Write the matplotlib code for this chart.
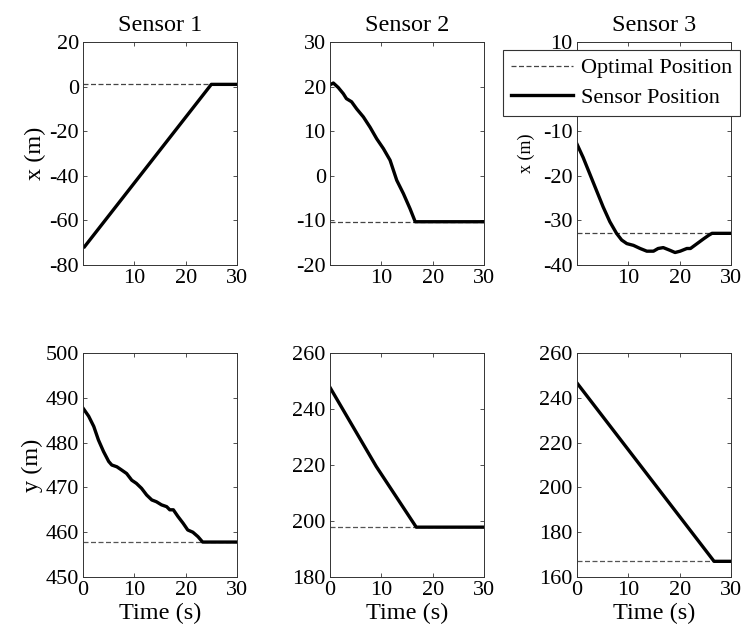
import matplotlib
matplotlib.use('Agg')
import matplotlib.pyplot as plt

plt.rcParams['font.family'] = ['Liberation Serif', 'DejaVu Serif']
plt.rcParams['axes.unicode_minus'] = False

# Sensor 1, x position (m) over time (s)
t_x1 = [0.3, 25.0, 30.0]
x1 = [-71.8, 1.0, 1.0]
x1_opt = 1.0

# Sensor 2, x position
t_x2 = [0.0, 0.65, 1.6, 2.6, 3.2, 4.2, 5.2, 6.5, 7.8, 9.1, 10.4, 11.7, 13.0, 14.3, 15.6, 16.6, 30.0]
x2 = [20.4, 20.8, 19.8, 18.4, 17.3, 16.6, 15.0, 13.2, 10.9, 8.3, 6.1, 3.5, -1.0, -4.0, -7.4, -10.3, -10.3]
x2_opt = -10.3

# Sensor 3, x position
t_x3 = [0.0, 1.2, 2.5, 3.8, 5.1, 6.4, 7.7, 8.7, 9.7, 11.0, 12.3, 13.6, 14.9, 15.8, 16.8,
        18.1, 19.1, 20.1, 21.4, 22.1, 23.4, 24.7, 25.7, 26.3, 30.0]
x3 = [-12.9, -15.9, -19.6, -23.3, -27.0, -30.3, -32.9, -34.4, -35.2, -35.6, -36.3, -36.9, -36.9,
      -36.3, -36.1, -36.7, -37.2, -36.9, -36.3, -36.3, -35.2, -34.1, -33.3, -32.9, -32.9]
x3_opt = -32.9

# Sensor 1, y position
t_y1 = [0.0, 1.1, 2.1, 3.0, 4.0, 5.0, 5.6, 6.6, 7.5, 8.5, 9.5, 10.4, 11.4, 12.4, 13.4, 14.3,
        15.3, 16.3, 16.9, 17.6, 18.5, 19.5, 20.4, 21.4, 22.4, 23.3, 30.0]
y1 = [487.7, 485.9, 483.6, 480.6, 478.0, 475.8, 475.0, 474.6, 473.9, 473.1, 471.6, 470.9, 469.8,
      468.3, 467.2, 466.8, 466.1, 465.7, 465.0, 465.0, 463.5, 462.0, 460.5, 460.0, 459.0, 457.8, 457.8]
y1_opt = 457.8

# Sensor 2, y position
t_y2 = [0.0, 9.0, 16.8, 30.0]
y2 = [247.7, 219.5, 197.8, 197.8]
y2_opt = 197.8

# Sensor 3, y position
t_y3 = [0.0, 26.7, 30.0]
y3 = [246.6, 167.0, 167.0]
y3_opt = 167.0

titles = ['Sensor 1', 'Sensor 2', 'Sensor 3']
x_series = [(t_x1, x1, x1_opt), (t_x2, x2, x2_opt), (t_x3, x3, x3_opt)]
y_series = [(t_y1, y1, y1_opt), (t_y2, y2, y2_opt), (t_y3, y3, y3_opt)]
x_ylims = [(-80, 20), (-20, 30), (-40, 10)]
y_ylims = [(450, 500), (180, 260), (160, 260)]
x_yticks = [[-80, -60, -40, -20, 0, 20], [-20, -10, 0, 10, 20, 30], [-40, -30, -20, -10, 0, 10]]
y_yticks = [[450, 460, 470, 480, 490, 500], [180, 200, 220, 240, 260],
            [160, 180, 200, 220, 240, 260]]

fig = plt.figure(figsize=(7.41, 6.42), dpi=100, facecolor='w')
lefts = [83 / 741, 330 / 741, 577 / 741]
w = 154 / 741


def style(ax):
    ax.tick_params(direction='in', top=True, right=True, labelsize=16,
                   length=3, width=0.6, color='#333333', pad=3)
    for s in ax.spines.values():
        s.set_linewidth(0.7)
        s.set_color('#333333')


for i in range(3):
    ax = fig.add_axes([lefts[i], 1 - 265 / 642, w, 223 / 642])
    t, v, opt = x_series[i]
    ax.plot([0, 30], [opt, opt], '--', color='#444444', lw=0.9, dashes=(4, 2),
            label='Optimal Position')
    ax.plot(t, v, '-', color='k', lw=2.4, label='Sensor Position')
    ax.set_xlim(0, 30)
    ax.set_ylim(*x_ylims[i])
    ax.set_xticks([10, 20, 30])
    ax.set_yticks(x_yticks[i])
    ax.set_title(titles[i], fontsize=17.5, pad=8)
    if i == 0:
        ax.set_ylabel('x (m)', fontsize=17.5, labelpad=2)
    if i == 2:
        ax.set_ylabel('x (m)', fontsize=13, labelpad=6)
        leg = ax.legend(loc='upper left', bbox_to_anchor=(503 / 741, 1 - 50 / 642),
                        bbox_transform=fig.transFigure, fontsize=16, frameon=True,
                        fancybox=False, handlelength=2.8, borderpad=0.35,
                        labelspacing=0.4, handletextpad=0.35, borderaxespad=0)
        leg.get_frame().set_edgecolor('#333333')
        leg.get_frame().set_linewidth(0.8)
        leg.get_frame().set_alpha(1)
    style(ax)

for i in range(3):
    ax = fig.add_axes([lefts[i], 1 - 577 / 642, w, 224 / 642])
    t, v, opt = y_series[i]
    ax.plot([0, 30], [opt, opt], '--', color='#555555', lw=0.9, dashes=(4, 2))
    ax.plot(t, v, '-', color='k', lw=2.4)
    ax.set_xlim(0, 30)
    ax.set_ylim(*y_ylims[i])
    ax.set_xticks([0, 10, 20, 30])
    ax.set_yticks(y_yticks[i])
    ax.set_xlabel('Time (s)', fontsize=17.5, labelpad=2)
    if i == 0:
        ax.set_ylabel('y (m)', fontsize=17.5, labelpad=2)
    style(ax)

fig.savefig('out.png', dpi=100)
